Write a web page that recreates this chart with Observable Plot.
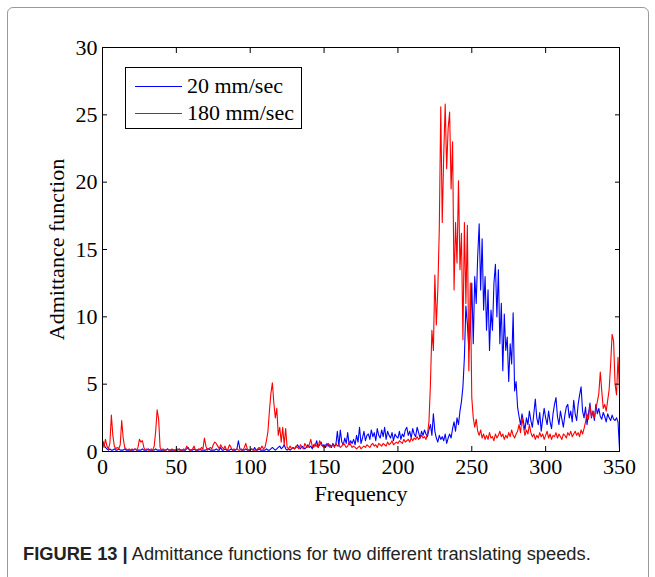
<!DOCTYPE html>
<html><head><meta charset="utf-8">
<script src="https://cdn.jsdelivr.net/npm/d3@7"></script>
<script src="https://cdn.jsdelivr.net/npm/@observablehq/plot@0.6"></script>
<style>
html,body{margin:0;padding:0;background:#fff;overflow:hidden;}
#wrap{position:relative;width:655px;height:577px;overflow:hidden;background:#fff;}
#border{position:absolute;left:7px;top:7px;width:642px;height:640px;border:1.5px solid #9a9a9a;border-radius:6px;box-sizing:border-box;}
#chart{position:absolute;left:0;top:0;}
#legend{position:absolute;left:125px;top:67px;width:177px;height:62px;border:1px solid #000;background:#fff;box-sizing:border-box;font-family:"Liberation Serif",serif;font-size:22px;color:#000;}
.row{position:absolute;left:0;height:24px;display:flex;align-items:center;white-space:nowrap;}
.sw{width:47px;height:0;border-top:1.5px solid;margin-left:9px;margin-right:5px;}
#caption{position:absolute;left:23px;top:542px;font-family:"Liberation Sans",Arial,sans-serif;font-size:18.3px;color:#222;white-space:nowrap;line-height:24px;}
</style></head>
<body>
<div id="wrap">
  <div id="border"></div>
  <div id="chart"></div>
  <div id="legend"></div>
  <div id="caption"></div>
</div>
<script>
// Series names and colours
const seriesNames = ["20 mm/sec", "180 mm/sec"];
const seriesColors = ["#0000ff", "#ff0000"];

// Frequency grid (Hz), 1 Hz steps from 0 to 350
const freqStart = 0;
const freqStep = 1;

// Admittance function, 20 mm/sec (blue)
const blue20 = [
  0.8, 0.5, 0.3, 0.2, 0.1, 0.2, 0.1, 0.1, 0.2, 0.1,
  0.1, 0.2, 0.1, 0.1, 0.1, 0.2, 0.1, 0.1, 0.1, 0.1,
  0.1, 0.1, 0.2, 0.1, 0.1, 0.1, 0.1, 0.2, 0.1, 0.1,
  0.1, 0.2, 0.1, 0.1, 0.1, 0.1, 0.2, 0.1, 0.1, 0.1,
  0.1, 0.1, 0.1, 0.1, 0.2, 0.1, 0.1, 0.1, 0.1, 0.1,
  0.1, 0.1, 0.2, 0.1, 0.1, 0.1, 0.1, 0.2, 0.3, 0.1,
  0.1, 0.1, 0.2, 0.1, 0.1, 0.1, 0.2, 0.1, 0.1, 0.1,
  0.1, 0.2, 0.2, 0.1, 0.1, 0.1, 0.1, 0.2, 0.1, 0.1,
  0.3, 0.1, 0.1, 0.2, 0.1, 0.1, 0.1, 0.2, 0.1, 0.1,
  0.1, 0.2, 0.8, 0.2, 0.1, 0.1, 0.1, 0.2, 0.1, 0.1,
  0.1, 0.2, 0.1, 0.3, 0.1, 0.1, 0.2, 0.1, 0.1, 0.1,
  0.1, 0.2, 0.1, 0.1, 0.2, 0.3, 0.2, 0.1, 0.2, 0.3,
  0.4, 0.2, 0.3, 0.5, 0.2, 0.1, 0.2, 0.1, 0.2, 0.3,
  0.2, 0.3, 0.5, 0.3, 0.2, 0.4, 0.3, 0.2, 0.3, 0.5,
  0.3, 0.4, 0.2, 0.5, 0.4, 0.8, 0.3, 0.5, 0.7, 0.4,
  0.5, 0.3, 0.6, 0.4, 0.5, 0.3, 0.6, 0.4, 0.5, 1.5,
  0.4, 1.6, 0.7, 0.5, 1.0, 0.6, 1.4, 0.5, 0.8, 0.6,
  0.9, 0.5, 1.2, 0.7, 1.8, 0.6, 1.0, 1.5, 0.8, 1.2,
  1.3, 0.9, 1.6, 1.1, 1.4, 0.8, 1.7, 1.2, 1.0, 1.6,
  1.1, 1.8, 0.9, 1.5, 1.2, 1.0, 1.4, 0.8, 1.3, 1.1,
  1.0, 1.5, 0.9, 1.3, 1.1, 1.6, 1.8, 1.2, 1.5, 1.0,
  1.7, 1.3, 1.1, 1.8, 1.4, 1.0, 1.5, 1.2, 1.6, 1.3,
  1.1, 1.6, 2.0, 1.2, 2.8, 1.5, 1.0, 0.7, 1.2, 0.9,
  1.1, 0.8, 1.3, 0.6, 1.0, 1.3, 1.0, 1.7, 2.2, 1.5,
  2.5, 2.0, 3.0, 3.7, 4.8, 7.0, 10.8, 9.5, 7.5, 9.0,
  12.5, 8.0, 13.0, 11.0, 14.5, 16.9, 12.0, 15.8, 10.5, 13.0,
  9.0, 12.0, 7.5, 10.5, 9.0, 12.5, 13.9, 10.0, 13.5, 8.0,
  11.0, 6.0, 10.2, 7.5, 8.5, 5.2, 8.0, 6.5, 10.3, 4.5,
  5.2, 3.3, 2.6, 2.0, 2.8, 2.2, 1.6, 2.5, 2.0, 3.0,
  2.3, 1.8, 2.8, 3.9, 2.5, 2.0, 2.9, 1.5, 2.4, 3.2,
  2.5, 2.0, 3.0, 2.2, 1.7, 2.8, 3.5, 4.0, 2.6, 2.0,
  3.0, 2.4, 1.8, 2.7, 3.3, 3.5, 2.5, 3.0, 2.2, 3.8,
  2.8, 2.3, 3.5, 4.2, 4.8, 3.0, 2.5, 3.3, 2.0, 2.8,
  3.6, 2.5, 3.0, 2.3, 3.5, 2.8, 3.2, 2.6, 2.4, 2.9,
  2.6, 2.2, 2.8, 2.5, 2.3, 2.7, 2.4, 2.3, 2.5, 2.2,
  0.2
];

// Admittance function, 180 mm/sec (red)
const red180 = [
  0.8, 0.3, 0.9, 0.4, 0.2, 0.6, 2.7, 1.2, 0.4, 0.2,
  0.3, 0.2, 0.5, 2.3, 1.0, 0.3, 0.2, 0.1, 0.2, 0.1,
  0.2, 0.1, 0.2, 0.1, 0.3, 0.9, 0.7, 0.8, 0.3, 0.1,
  0.2, 0.1, 0.1, 0.2, 0.1, 0.4, 1.5, 3.1, 2.4, 0.3,
  0.1, 0.2, 0.1, 0.1, 0.2, 0.1, 0.1, 0.2, 0.1, 0.1,
  0.1, 0.2, 0.1, 0.1, 0.1, 0.2, 0.1, 0.4, 0.2, 0.1,
  0.1, 0.2, 0.4, 0.1, 0.1, 0.2, 0.1, 0.3, 0.2, 1.0,
  0.4, 0.1, 0.2, 0.3, 0.2, 0.5, 0.7, 0.6, 0.4, 0.2,
  0.5, 0.3, 0.2, 0.4, 0.1, 0.2, 0.5, 0.3, 0.1, 0.2,
  0.1, 0.2, 0.1, 0.1, 0.2, 0.1, 0.3, 0.6, 0.2, 0.1,
  0.1, 0.2, 0.1, 0.1, 0.1, 0.2, 0.3, 0.2, 0.4, 0.2,
  0.3, 0.8, 1.5, 3.0, 4.3, 5.1, 3.6, 2.5, 3.2, 1.2,
  1.8, 0.7, 1.8, 0.5, 1.7, 0.3, 0.2, 0.4, 0.2, 0.3,
  0.2, 0.4, 0.3, 0.2, 0.5, 0.3, 0.2, 0.6, 0.4, 0.3,
  0.5, 0.9, 0.4, 0.3, 0.6, 0.4, 0.3, 0.8, 0.5, 0.4,
  0.3, 0.5, 0.4, 0.6, 0.3, 0.4, 0.5, 0.3, 0.6, 0.4,
  0.5, 0.3, 0.4, 0.6, 0.5, 0.3, 0.4, 0.7, 0.5, 0.3,
  0.4, 0.3, 0.2, 0.3, 0.4, 0.2, 0.3, 0.4, 0.3, 0.5,
  0.4, 0.3, 0.5, 0.6, 0.4, 0.5, 0.3, 0.6, 0.5, 0.4,
  0.6, 0.5, 0.4, 0.7, 0.5, 0.6, 0.8, 0.5, 0.6, 0.7,
  0.6, 0.8, 0.7, 0.6, 0.9, 0.7, 0.8, 0.9, 0.7, 1.0,
  0.8, 1.0, 0.9, 1.1, 0.9, 1.0, 1.2, 1.0, 1.1, 0.9,
  1.3, 2.2, 5.0, 9.0, 7.5, 13.1, 9.4, 12.0, 16.5, 25.6,
  17.0, 22.0, 25.8, 21.0, 24.0, 25.2, 19.5, 23.0, 12.0, 17.0,
  14.0, 20.1, 13.5, 16.2, 8.3, 17.0, 11.0, 16.8, 6.0, 12.5,
  4.0, 2.5, 1.8, 2.4, 1.5, 1.2, 1.6, 1.0, 1.3, 0.9,
  1.2, 0.9, 1.4, 1.0, 1.1, 0.8, 1.3, 1.0, 1.2, 1.5,
  1.1, 1.3, 0.9, 1.2, 1.0, 1.4, 1.1, 1.6, 1.2, 1.0,
  1.3, 1.5, 2.0, 1.4, 2.5, 1.8, 1.2, 1.6, 1.3, 2.0,
  1.4, 1.1, 1.3, 0.9, 1.2, 1.0, 1.4, 1.1, 1.3, 0.9,
  1.2, 1.5, 1.0, 1.3, 0.9, 1.2, 1.1, 1.4, 1.0, 1.3,
  1.1, 0.9, 1.3, 1.2, 1.0, 1.4, 1.2, 1.5, 1.1, 1.3,
  1.5, 1.2, 1.4, 1.1, 1.6, 1.3, 1.7, 2.2, 2.8, 2.4,
  3.4, 2.6, 3.0, 2.5, 3.2, 3.7, 4.3, 5.9, 4.5, 3.2,
  3.5, 3.0, 3.8, 4.6, 6.5, 8.7, 8.2, 5.0, 4.2, 7.0,
  4.5
];

// Axis ticks and labels
const xTicks = [0, 50, 100, 150, 200, 250, 300, 350];
const yTicks = [0, 5, 10, 15, 20, 25, 30];
const xLabel = "Frequency";
const yLabel = "Admittance function";
const captionBold = "FIGURE 13 |";
const captionText = " Admittance functions for two different translating speeds.";

const rows = [];
blue20.forEach((v, i) => rows.push({f: freqStart + i * freqStep, v, s: seriesNames[0]}));
red180.forEach((v, i) => rows.push({f: freqStart + i * freqStep, v, s: seriesNames[1]}));

const noText = () => "";
const chart = Plot.plot({
  width: 655, height: 520,
  marginLeft: 102, marginRight: 36, marginTop: 47, marginBottom: 69,
  style: {fontFamily: "'Liberation Serif', serif", fontSize: "22px", color: "#000", background: "transparent", overflow: "visible"},
  x: {domain: [0, 350]},
  y: {domain: [0, 30]},
  color: {domain: seriesNames, range: seriesColors},
  marks: [
    Plot.line(rows, {x: "f", y: "v", z: "s", stroke: "s", strokeWidth: 1.1}),
    Plot.frame({stroke: "#000", strokeWidth: 1}),
    Plot.axisX({anchor: "bottom", ticks: xTicks, tickSize: 0, tickPadding: 7, label: null, fontSize: 22}),
    Plot.axisX({anchor: "bottom", ticks: xTicks, tickSize: -5, tickFormat: noText, label: null}),
    Plot.axisX({anchor: "top", ticks: xTicks, tickSize: -5, tickFormat: noText, label: null}),
    Plot.axisY({anchor: "left", ticks: yTicks, tickSize: 0, tickPadding: 5, label: null, fontSize: 22}),
    Plot.axisY({anchor: "left", ticks: yTicks, tickSize: -5, tickFormat: noText, label: null}),
    Plot.axisY({anchor: "right", ticks: yTicks, tickSize: -5, tickFormat: noText, label: null}),
    Plot.text([xLabel], {frameAnchor: "bottom", dy: 42, textAnchor: "middle", lineAnchor: "middle", fontSize: 22, fill: "#000"}),
    Plot.text([yLabel], {frameAnchor: "left", dx: -46, rotate: -90, textAnchor: "middle", lineAnchor: "middle", fontSize: 22, fill: "#000"})
  ]
});
document.getElementById("chart").appendChild(chart);

// Legend
const legend = document.getElementById("legend");
const rowTops = [6, 33];
seriesNames.forEach((name, i) => {
  const r = document.createElement("div");
  r.className = "row";
  r.style.top = rowTops[i] + "px";
  const sw = document.createElement("span");
  sw.className = "sw";
  sw.style.borderTopColor = seriesColors[i];
  const t = document.createElement("span");
  t.textContent = name;
  r.appendChild(sw); r.appendChild(t);
  legend.appendChild(r);
});

// Caption
const cap = document.getElementById("caption");
const b = document.createElement("b");
b.textContent = captionBold;
cap.appendChild(b);
cap.appendChild(document.createTextNode(captionText));
</script>
</body></html>
